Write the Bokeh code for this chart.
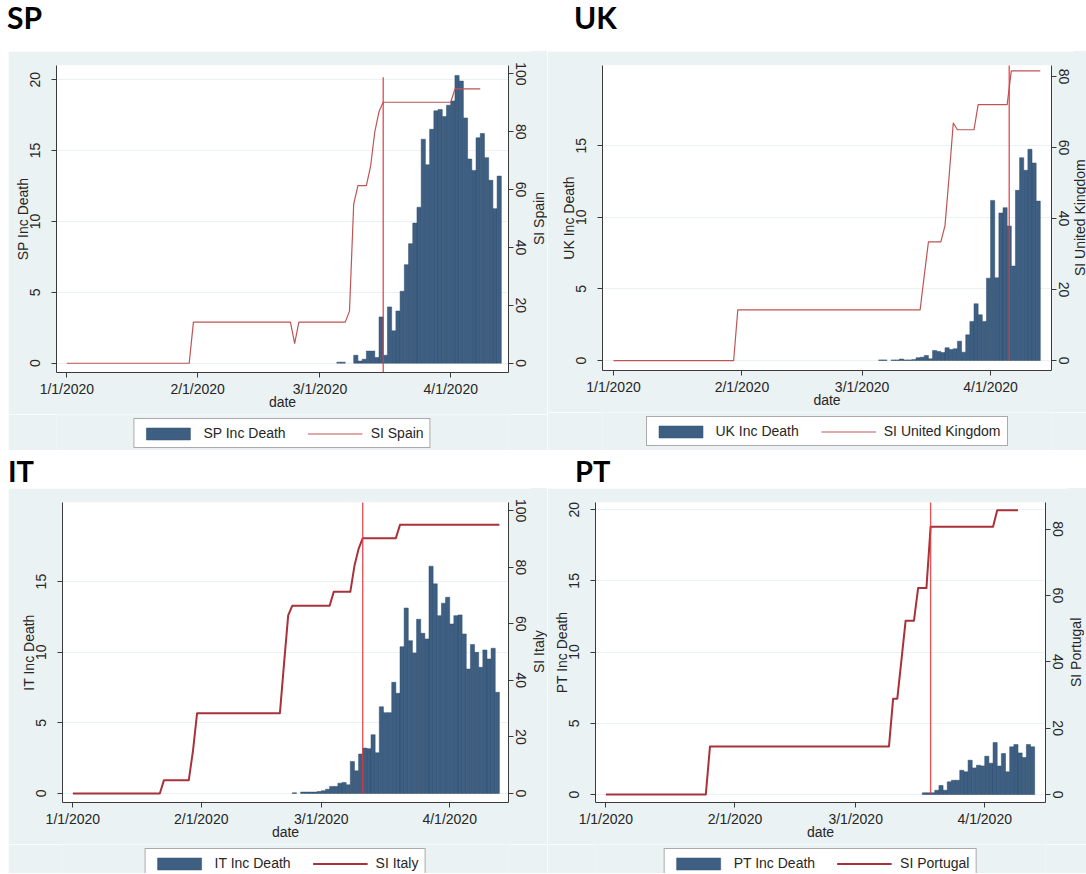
import math
import pandas as pd
from bokeh.plotting import figure
from bokeh.models import Range1d, LinearAxis, FixedTicker, Legend, LegendItem, Div
from bokeh.layouts import column, row
from bokeh.embed import file_html
from bokeh.resources import INLINE

# ---------------- data ----------------
ORIGIN = "2020-01-01"
tick_dates = ["2020-01-01", "2020-02-01", "2020-03-01", "2020-04-01"]
tick_labels = ["1/1/2020", "2/1/2020", "3/1/2020", "4/1/2020"]

# Spain
sp_title = "SP"
sp_bar_label = "SP Inc Death"
sp_si_label = "SI Spain"
sp_bar_start = "2020-03-05"
sp_bar_values = [0.07, 0.07, 0, 0,
                 0.56, 0.15, 0.28, 0.85, 0.85, 0.4, 3.26, 0.56, 3.97, 2.28, 3.68, 5.07,
                 6.95, 8.43, 9.88, 11.0, 15.8, 14.0, 16.5, 17.8, 17.9, 17.4, 18.2, 18.5,
                 20.3, 19.9, 17.3, 14.4, 13.6, 15.9, 16.2, 14.5, 12.9, 10.9, 13.2]
sp_si_dates = ["2020-01-01", "2020-01-30", "2020-01-31", "2020-02-23", "2020-02-24",
               "2020-02-25", "2020-03-07", "2020-03-08", "2020-03-09", "2020-03-10",
               "2020-03-12", "2020-03-13", "2020-03-14", "2020-03-15", "2020-03-16",
               "2020-04-01", "2020-04-02", "2020-04-08"]
sp_si_values = [0, 0, 14.2, 14.2, 6.9, 14.2, 14.2, 18, 55, 61.4, 61.4, 68, 80, 87, 90.2,
                90.2, 94.8, 94.8]
sp_event_date = "2020-03-16"
sp_left_ticks = [0, 5, 10, 15, 20]
sp_right_ticks = [0, 20, 40, 60, 80, 100]

# United Kingdom
uk_title = "UK"
uk_bar_label = "UK Inc Death"
uk_si_label = "SI United Kingdom"
uk_bar_start = "2020-03-05"
uk_bar_values = [0.04, 0.04, 0, 0.04, 0.04, 0.1, 0.04, 0.04, 0.06,
                 0.19, 0.23, 0.35, 0.12, 0.7, 0.63, 0.56, 0.89, 0.77, 0.82, 1.35, 0.58,
                 1.79, 2.73, 3.96, 3.19, 2.73, 5.75, 11.18, 5.77, 10.3, 10.67, 9.39, 6.59,
                 11.88, 14.16, 13.28, 14.75, 13.79, 11.13]
uk_si_dates = ["2020-01-01", "2020-01-30", "2020-01-31", "2020-03-15", "2020-03-16",
               "2020-03-17", "2020-03-20", "2020-03-21", "2020-03-22", "2020-03-23",
               "2020-03-24", "2020-03-28", "2020-03-29", "2020-04-05", "2020-04-06",
               "2020-04-13"]
uk_si_values = [0, 0, 14.3, 14.3, 24, 33.4, 33.4, 38, 52, 66.9, 65, 65, 72.1, 72.1, 81.6, 81.6]
uk_event_date = "2020-04-05T12:00"
uk_left_ticks = [0, 5, 10, 15]
uk_right_ticks = [0, 20, 40, 60, 80]

# Italy
it_title = "IT"
it_bar_label = "IT Inc Death"
it_si_label = "SI Italy"
it_bar_start = "2020-02-23"
it_bar_values = [0.05, 0, 0.1, 0.1, 0.1, 0.1,
                 0.14, 0.19, 0.3, 0.5, 0.5, 0.73, 0.78, 0.61, 2.27, 1.6, 2.79, 3.21, 3.17,
                 4.16, 2.88, 6.14, 5.72, 5.72, 7.87, 7.09, 10.39, 13.13, 10.82, 9.95, 12.33,
                 11.34, 10.94, 16.09, 14.84, 12.59, 13.47, 13.89, 12.0, 12.59, 12.64, 11.29,
                 8.81, 10.54, 9.99, 8.93, 10.16, 9.52, 10.28, 7.16]
it_si_dates = ["2020-01-01", "2020-01-22", "2020-01-23", "2020-01-29", "2020-01-30",
               "2020-01-31", "2020-02-20", "2020-02-21", "2020-02-22", "2020-02-23",
               "2020-03-03", "2020-03-04", "2020-03-08", "2020-03-09", "2020-03-10",
               "2020-03-11", "2020-03-19", "2020-03-20", "2020-04-13"]
it_si_values = [0, 0, 4.7, 4.7, 15, 28.4, 28.4, 46, 63, 66.4, 66.4, 71.3, 71.3, 80.5, 86.5,
                90.3, 90.3, 95, 95]
it_event_date = "2020-03-11"
it_left_ticks = [0, 5, 10, 15]
it_right_ticks = [0, 20, 40, 60, 80, 100]

# Portugal
pt_title = "PT"
pt_bar_label = "PT Inc Death"
pt_si_label = "SI Portugal"
pt_bar_start = "2020-03-17"
pt_bar_values = [0.12, 0.12, 0.12,
                 0.3, 0.63, 0.3, 0.89, 1.0, 1.0, 1.7, 1.59, 2.41, 1.87, 2.06, 2.01, 2.69,
                 2.2, 3.65, 2.0, 2.88, 1.59, 3.35, 3.51, 2.92, 2.6, 3.51, 3.35]
pt_si_dates = ["2020-01-01", "2020-01-25", "2020-01-26", "2020-03-09", "2020-03-10",
               "2020-03-11", "2020-03-12", "2020-03-13", "2020-03-15", "2020-03-16",
               "2020-03-18", "2020-03-19", "2020-04-03", "2020-04-04", "2020-04-09"]
pt_si_values = [0, 0, 14.5, 14.5, 28.9, 28.9, 40.6, 52.4, 52.4, 62.2, 62.2, 80.7, 80.7,
                85.7, 85.7]
pt_event_date = "2020-03-19"
pt_left_ticks = [0, 5, 10, 15, 20]
pt_right_ticks = [0, 20, 40, 60, 80]

# ---------------- style ----------------
PANEL_BG = "#EAF2F3"
GRID = "#EAF2F3"
BAR_FILL = "#3E5F82"
BAR_LINE = "#2F4C6C"
VLINE = "#E0383E"
AXIS = "#3a3a3a"
TEXT = "#262626"
FONT = "Liberation Sans"

origin = pd.Timestamp(ORIGIN)


def day(s):
    return (pd.Timestamp(s) - origin) / pd.Timedelta(days=1)


tick_days = [int(day(s)) for s in tick_dates]


def make_panel(bar_label, si_label, bar_start, bar_values, si_dates, si_values, event_date,
               left_ticks, right_ticks, st):
    W, H = st["size"]          # whole panel width (without left margin), chart height
    SW = st["strip"]           # width of the strip that holds the right axis title
    bl, br, bt, bb = st["borders"]
    MW = W - SW
    p = figure(width=MW, height=H, output_backend="svg", toolbar_location=None,
               x_range=Range1d(*st["xr"]), y_range=Range1d(*st["yl"]),
               min_border_left=bl, min_border_right=br, min_border_top=bt,
               min_border_bottom=bb, background_fill_color="white",
               border_fill_color=PANEL_BG, outline_line_color=None,
               margin=(0, 0, 0, st["mleft"]))
    p.extra_y_ranges = {"si": Range1d(*st["yr"])}

    dates = pd.date_range(bar_start, periods=len(bar_values), freq="D")
    xs = [day(d) + 0.5 for d, v in zip(dates, bar_values) if v > 0]
    tops = [v for v in bar_values if v > 0]
    p.vbar(x=xs, top=tops, bottom=0, width=1, fill_color=BAR_FILL,
           line_color=BAR_LINE, line_width=0.5)
    p.line(x=[day(s) for s in si_dates], y=si_values, y_range_name="si",
           line_color=st["si_color"], line_width=st["si_width"], line_join="round")
    ev = day(event_date)
    lo, hi = st["vline"]
    p.segment(x0=[ev], x1=[ev], y0=[lo], y1=[hi], y_range_name="si",
              line_color=VLINE, line_width=1.4, line_alpha=0.85)

    xa = p.xaxis[0]
    xa.ticker = FixedTicker(ticks=tick_days)
    xa.major_label_overrides = {d: l for d, l in zip(tick_days, tick_labels)}
    xa.axis_label = "date"
    ya = p.yaxis[0]
    ya.ticker = FixedTicker(ticks=left_ticks)
    ya.axis_label = bar_label
    ya.major_label_orientation = "vertical"
    ra = LinearAxis(y_range_name="si", ticker=FixedTicker(ticks=right_ticks))
    ra.major_label_orientation = "vertical"
    p.add_layout(ra, "right")
    for ax in (xa, ya, ra):
        ax.axis_line_color = AXIS
        ax.major_tick_line_color = AXIS
        ax.minor_tick_line_color = None
        ax.major_tick_out = 5
        ax.major_tick_in = 0
        ax.major_label_text_font = FONT
        ax.major_label_text_font_size = "14px"
        ax.major_label_text_color = TEXT
        ax.axis_label_text_font = FONT
        ax.axis_label_text_font_size = "14px"
        ax.axis_label_text_font_style = "normal"
        ax.axis_label_text_color = TEXT
    xa.major_label_standoff = 3
    xa.axis_label_standoff = -6
    ya.major_label_standoff = 11
    ya.axis_label_standoff = -3
    ra.major_label_standoff = 2
    p.xgrid.visible = False
    p.ygrid.ticker = FixedTicker(ticks=left_ticks)
    p.ygrid.grid_line_color = GRID

    # right axis title, written bottom-to-top in a narrow strip
    fh = H - bt - bb
    cw = min(16, SW)
    strip = Div(width=SW, height=H, margin=0, text=(
        '<div style="width:%dpx;height:%dpx;background:%s;position:relative">'
        '<div style="position:absolute;left:0px;top:%dpx;height:%dpx;width:%dpx;'
        'writing-mode:vertical-rl;transform:rotate(180deg);text-align:center;'
        'font-family:\'Liberation Sans\';font-size:14px;line-height:%dpx;color:%s;'
        'white-space:nowrap">%s</div></div>'
        % (SW, H, PANEL_BG, bt, fh, cw, cw, TEXT, si_label)))

    # legend strip below the chart, frame aligned with the chart's frame
    lg = figure(width=W, height=st["legend_h"], output_backend="svg", toolbar_location=None,
                x_axis_location=None, y_axis_location=None,
                x_range=Range1d(0, 1), y_range=Range1d(0, 1),
                min_border_left=bl, min_border_right=br + SW, min_border_top=0,
                min_border_bottom=0, background_fill_color=PANEL_BG,
                border_fill_color=PANEL_BG, outline_line_color=None,
                margin=(0, 0, 0, st["mleft"]))
    lg.grid.visible = False
    # swatch renderers (their single point lies outside the strip's ranges)
    sw_bar = lg.vbar(x=[-9], top=[-9], bottom=-10, width=1, fill_color=BAR_FILL,
                     line_color=BAR_LINE, line_width=0.5)
    sw_line = lg.line(x=[-9, -8], y=[-9, -9], line_color=st["si_color"],
                      line_width=st["si_width"])
    leg = Legend(items=[LegendItem(label=bar_label, renderers=[sw_bar]),
                        LegendItem(label=si_label, renderers=[sw_line])],
                 orientation="horizontal", location="top_center",
                 glyph_width=55, glyph_height=15, label_standoff=8, spacing=22,
                 padding=6, margin=4, label_height=16,
                 border_line_color="#555555", border_line_width=1.5,
                 background_fill_color="white", background_fill_alpha=1,
                 label_text_font=FONT, label_text_font_size="14px",
                 label_text_color=TEXT)
    lg.add_layout(leg)
    return column(row(p, strip, spacing=0), lg, spacing=0)


def title_div(text, left, top, size, width, height):
    html = ('<div style="font-family:Lato;font-weight:700;font-size:%dpx;line-height:%dpx;'
            'color:#000;position:relative;left:%dpx;top:%dpx;white-space:nowrap">%s</div>'
            % (size, size, left, top, text))
    return Div(text=html, width=width, height=height, margin=0)


SI_THIN = "#BE5454"
SI_THICK = "#A8323A"

sp_style = dict(size=(539, 363), strip=16, legend_h=36, mleft=8,
                borders=(48, 23, 14, 42), xr=(-2.46, 104.7), yl=(-0.66, 21.0),
                yr=(-3.2, 102.9), si_color=SI_THIN, si_width=1.2, vline=(-4, 98.8))
uk_style = dict(size=(539, 361), strip=12, legend_h=38, mleft=0,
                borders=(55, 23, 14, 42), xr=(-2.65, 105.7), yl=(-0.7, 20.6),
                yr=(-2.8, 83.1), si_color=SI_THIN, si_width=1.2, vline=(0, 90))
it_style = dict(size=(539, 356), strip=16, legend_h=29, mleft=8,
                borders=(54, 23, 14, 42), xr=(-2.5, 105.2), yl=(-0.64, 20.6),
                yr=(-3.2, 102.9), si_color=SI_THICK, si_width=2, vline=(0, 110))
pt_style = dict(size=(539, 356), strip=18, legend_h=29, mleft=0,
                borders=(48, 23, 14, 42), xr=(-2.5, 105.6), yl=(-0.56, 20.5),
                yr=(-2.4, 88.0), si_color=SI_THICK, si_width=2, vline=(0, 100))

p_sp = make_panel(sp_bar_label, sp_si_label, sp_bar_start, sp_bar_values, sp_si_dates,
                  sp_si_values, sp_event_date, sp_left_ticks, sp_right_ticks, sp_style)
p_uk = make_panel(uk_bar_label, uk_si_label, uk_bar_start, uk_bar_values, uk_si_dates,
                  uk_si_values, uk_event_date, uk_left_ticks, uk_right_ticks, uk_style)
p_it = make_panel(it_bar_label, it_si_label, it_bar_start, it_bar_values, it_si_dates,
                  it_si_values, it_event_date, it_left_ticks, it_right_ticks, it_style)
p_pt = make_panel(pt_bar_label, pt_si_label, pt_bar_start, pt_bar_values, pt_si_dates,
                  pt_si_values, pt_event_date, pt_left_ticks, pt_right_ticks, pt_style)

layout = column(
    row(title_div(sp_title, 7, 2, 30, 547, 51), title_div(uk_title, 27, 2, 30, 539, 51)),
    row(p_sp, p_uk),
    row(title_div(it_title, 8, 6, 29, 547, 38), title_div(pt_title, 28, 6, 29, 539, 38)),
    row(p_it, p_pt),
)

open("out.html", "w").write(file_html(layout, INLINE))
